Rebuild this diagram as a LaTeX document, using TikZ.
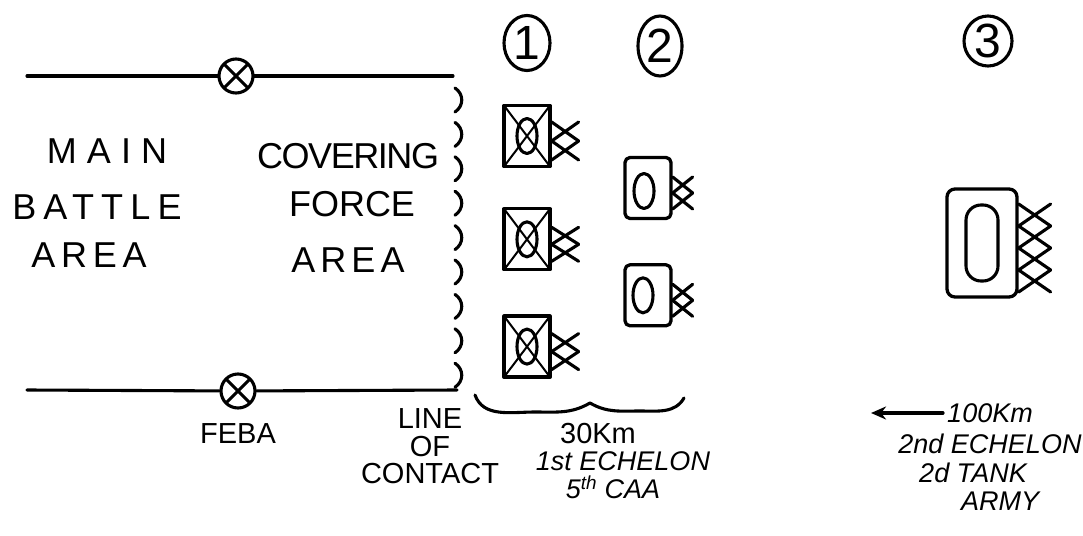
\documentclass[tikz,border=0pt]{standalone}
\usepackage{fontspec}
\setmainfont{Liberation Sans}
\usetikzlibrary{positioning,shapes.geometric,arrows.meta}

% box, count, width, height
\newcommand{\xmarks}[4]{%
  \foreach \k in {1,...,#2}
    \draw[ink] (#1.east) ++(0,{5-#2*#4/2+(\k-1)*#4}) -- ++(#3,#4) ++(0,-#4) -- ++(-#3,#4);}

\tikzset{
  ink/.style={line width=3.1pt, line cap=round, line join=round},
  bigtext/.style={inner sep=0pt, font=\fontsize{36}{38}\selectfont\addfontfeature{LetterSpace=#1}},
  bigtext/.default=0,
  smalltext/.style={inner sep=0pt, font=\fontsize{29}{31}\selectfont},
  slanttext/.style={inner sep=0pt, font=\fontsize{27}{29}\selectfont\itshape},
  febax/.style={circle, draw, ink, minimum size=34pt, inner sep=0pt,
    path picture={\draw[ink] (path picture bounding box.north west) -- (path picture bounding box.south east)
      (path picture bounding box.north east) -- (path picture bounding box.south west);}},
  numring/.style={ellipse, draw, ink, inner sep=0pt, font=\fontsize{48}{50}\selectfont},
  unitbox/.style={draw, ink, line width=3.3pt, inner sep=0pt, minimum width=46pt, minimum height=61pt},
  crossbox/.style={unitbox,
    path picture={\draw[line width=2pt] (path picture bounding box.north west) -- (path picture bounding box.south east)
      (path picture bounding box.north east) -- (path picture bounding box.south west);}},
  unitoval/.style={ellipse, draw, ink, inner sep=0pt, minimum width=20pt, minimum height=35pt}
}

\begin{document}
\begin{tikzpicture}[x=1pt,y=-1pt]
  \useasboundingbox (0,0) rectangle (1083,535);
  % FEBA and line of contact
  \coordinate (tl) at (27,76);
  \coordinate (tr) at (453,76);
  \coordinate (bl) at (27,390);
  \coordinate (br) at (457,390);
  \node[febax] (ft) at (236,76) {};
  \node[febax] (fb) at (238,391) {};
  \draw[ink] (tl) -- (ft) -- (tr);
  \draw[ink] (bl) -- (fb) -- (br);
  \foreach \i [evaluate=\i as \c using 100+34.4*\i] in {0,...,8}
    \draw[ink] (455,{\c-12}) .. controls (464,{\c-6}) and (464,{\c+6}) .. (455,{\c+12});

  \node[bigtext=28] (main) at (107,151) {MAIN};
  \node[bigtext=20] (battle) at (97,207) {BATTLE};
  \node[bigtext=16] (areaa) at (89,255) {AREA};
  \node[bigtext=-4] (cover) at (348,156) {COVERING};
  \node[bigtext] (force) at (352,204) {FORCE};
  \node[bigtext=14] (areab) at (348,260) {AREA};

  \node[smalltext, below=14pt of fb] (feba) {FEBA};
  \node[smalltext] (line) at (430,419) {LINE};
  \node[smalltext, below=7pt of line] (of) {OF};
  \node[smalltext, below=6pt of of] (contact) {CONTACT};

  % 1st echelon
  \node[numring, minimum width=46pt, minimum height=55pt] (n1) at (527,43) {1};
  \node[crossbox] (a1) at (527,136) {};
  \node[crossbox, below=39pt of a1] (a2) {};
  \node[crossbox, below=43pt of a2] (a3) {};
  \foreach \u in {a1,a2,a3}
    \node[unitoval] (o\u) at (\u) {};
  \xmarks{a1}{2}{27}{19}
  \xmarks{a2}{2}{27}{17}
  \xmarks{a3}{2}{27}{18}
  \draw[ink] (475,395) to[out=-70,in=180] (535,412) to[out=0,in=-150] (590,403)
    to[out=-30,in=180] (640,411) to[out=0,in=-120] (684,398);
  \node[smalltext] (km30) at (598,434) {30Km};
  \node[slanttext] (ech1) at (623,461) {1st ECHELON};
  \node[slanttext] (caa) at (613,487) {5\textsuperscript{th} CAA};

  % 2nd echelon, 5th CAA
  \node[numring, minimum width=44pt, minimum height=60pt] (n2) at (660,46) {2};
  \node[unitbox, rounded corners=5pt] (b1) at (648,188) {};
  \node[unitbox, rounded corners=5pt, below=43pt of b1] (b2) {};
  \node[unitoval] (ob1) at ([shift={(-4,3)}]b1.center) {};
  \node[unitoval] (ob2) at ([shift={(-5,0)}]b2.center) {};
  \xmarks{b1}{2}{20}{16}
  \xmarks{b2}{2}{20}{16}

  % tank army
  \node[numring, minimum width=48pt, minimum height=50pt] (n3) at (988,41) {3};
  \node[unitbox, rounded corners=8pt, minimum width=70pt, minimum height=108pt] (c1) at (982,243) {};
  \node[unitoval, rectangle, rounded corners=15pt, minimum width=32pt, minimum height=76pt] (oc1) at (c1) {};
  \xmarks{c1}{4}{32}{22}
  \node[slanttext] (km100) at (990,413) {100Km};
  \coordinate[left=76pt of km100] (ar);
  \draw[ink, -{Stealth[length=15pt, width=13pt]}] ([xshift=-4pt]km100.west) -- (ar);
  \node[slanttext] (ech2) at (990,444) {2nd ECHELON};
  \node[slanttext] (tank) at (973,473) {2d TANK};
  \node[slanttext] (army) at (1000,501) {ARMY};
\end{tikzpicture}
\end{document}
